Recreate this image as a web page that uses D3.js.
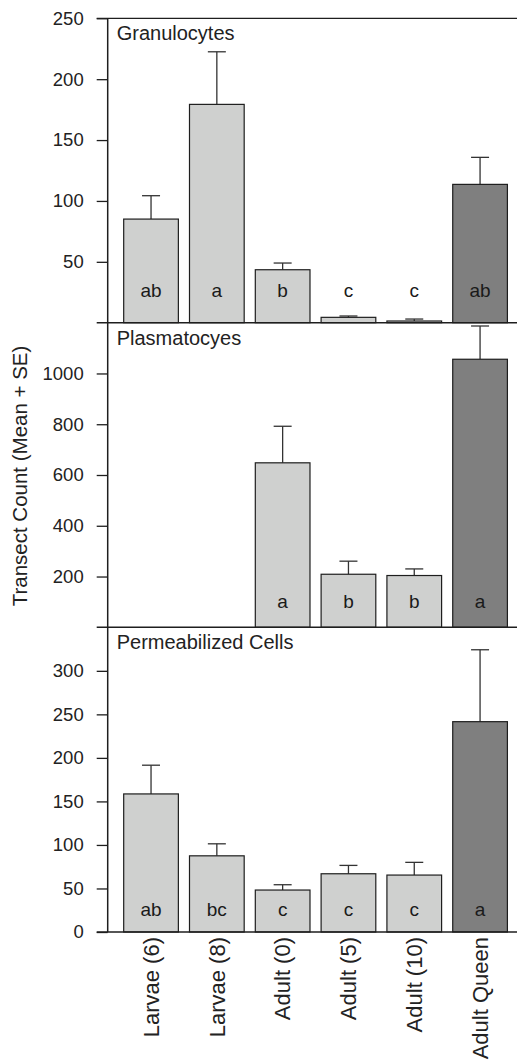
<!DOCTYPE html>
<html>
<head>
<meta charset="utf-8">
<script src="https://cdn.jsdelivr.net/npm/d3@7"></script>
<style>
  body { margin: 0; background: #fff; }
  svg { display: block; font-family: "Liberation Sans", Arial, sans-serif; }
  .tick text { fill: #222; }
</style>
</head>
<body>
<svg id="chart" width="517" height="1061"></svg>
<script>
// groups on the x axis
var groups = ["Larvae (6)", "Larvae (8)", "Adult (0)", "Adult (5)", "Adult (10)", "Adult Queen"];
var queen = "Adult Queen";

// Granulocytes
var granMean = [85.1, 179.3, 43.5, 4.4, 1.4, 113.6];
var granSE = [19.2, 43.2, 5.5, 1.1, 1.6, 22.2];
var granLetters = ["ab", "a", "b", "c", "c", "ab"];
var granTicks = [50, 100, 150, 200, 250];

// Plasmatocyes (no larvae data)
var plasMean = [null, null, 648, 209, 204, 1056];
var plasSE = [null, null, 144, 51.5, 26, 131];
var plasLetters = [null, null, "a", "b", "b", "a"];
var plasTicks = [200, 400, 600, 800, 1000];

// Permeabilized cells
var permMean = [158.6, 87.5, 48.2, 66.9, 65.4, 241.6];
var permSE = [33, 13.8, 6.1, 9.6, 14.6, 82.6];
var permLetters = ["ab", "bc", "c", "c", "c", "a"];
var permTicks = [0, 50, 100, 150, 200, 250, 300];

var panels = [
  { title: "Granulocytes", mean: granMean, se: granSE, letters: granLetters, ticks: granTicks, max: 250, top: 18.3, bottom: 322.7, letterOff: 26 },
  { title: "Plasmatocyes", mean: plasMean, se: plasSE, letters: plasLetters, ticks: plasTicks, max: 1200, top: 322.7, bottom: 627.3, letterOff: 19 },
  { title: "Permeabilized Cells", mean: permMean, se: permSE, letters: permLetters, ticks: permTicks, max: 350, top: 627.3, bottom: 932, letterOff: 16 }
];

var svg = d3.select("#chart");
var axisX = 107.7, tickLen = 11, rightEdge = 523.4;
var ink = "#1e1e1e";

var x = d3.scaleBand()
  .domain(groups)
  .range([axisX, rightEdge])
  .paddingInner(0.169)
  .paddingOuter(0.243);

panels.forEach(function(p, pi) {
  var y = d3.scaleLinear().domain([0, p.max]).range([p.bottom, p.top]);
  var g = svg.append("g");

  var rows = groups.map(function(d, i) {
    return { group: d, mean: p.mean[i], se: p.se[i], letter: p.letters[i] };
  });
  var present = rows.filter(function(d) { return d.mean != null; });

  // error bars (upper only)
  var err = g.selectAll(".err").data(present).enter().append("g");
  err.append("line")
    .attr("x1", function(d) { return x(d.group) + x.bandwidth() / 2; })
    .attr("x2", function(d) { return x(d.group) + x.bandwidth() / 2; })
    .attr("y1", function(d) { return y(d.mean); })
    .attr("y2", function(d) { return y(d.mean + d.se); })
    .attr("stroke", "#333").attr("stroke-width", 1.3);
  err.append("line")
    .attr("x1", function(d) { return x(d.group) + x.bandwidth() / 2 - 9; })
    .attr("x2", function(d) { return x(d.group) + x.bandwidth() / 2 + 9; })
    .attr("y1", function(d) { return y(d.mean + d.se); })
    .attr("y2", function(d) { return y(d.mean + d.se); })
    .attr("stroke", "#333").attr("stroke-width", 1.3);

  // bars
  g.selectAll(".bar").data(present).enter().append("rect")
    .attr("x", function(d) { return x(d.group); })
    .attr("y", function(d) { return y(d.mean); })
    .attr("width", x.bandwidth())
    .attr("height", function(d) { return y(0) - y(d.mean); })
    .attr("fill", function(d) { return d.group === queen ? "#7f7f7f" : "#cfd0cf"; })
    .attr("stroke", ink).attr("stroke-width", 1.2);

  // significance letters
  g.selectAll(".lt").data(present).enter().append("text")
    .attr("x", function(d) { return x(d.group) + x.bandwidth() / 2; })
    .attr("y", y(0) - p.letterOff)
    .attr("text-anchor", "middle")
    .attr("font-size", 19)
    .attr("fill", "#1a1a1a")
    .text(function(d) { return d.letter; });

  // y axis ticks
  var ax = g.append("g")
    .attr("transform", "translate(" + axisX + ",0)")
    .call(d3.axisLeft(y).tickValues(p.ticks).tickSize(tickLen).tickPadding(13).tickFormat(d3.format("d")));
  ax.select(".domain").remove();
  ax.selectAll(".tick line").attr("stroke", ink).attr("stroke-width", 1.3);
  ax.selectAll(".tick text").attr("font-size", 18.5).attr("font-family", "Liberation Sans, Arial, sans-serif");

  // vertical axis line
  g.append("line")
    .attr("x1", axisX).attr("x2", axisX)
    .attr("y1", p.top).attr("y2", p.bottom)
    .attr("stroke", ink).attr("stroke-width", 1.5);

  // baseline (also top of next panel) and top frame for first panel
  g.append("line")
    .attr("x1", axisX - tickLen).attr("x2", rightEdge)
    .attr("y1", y(0)).attr("y2", y(0))
    .attr("stroke", ink).attr("stroke-width", 1.5);
  if (pi === 0) {
    g.append("line")
      .attr("x1", axisX - tickLen).attr("x2", rightEdge)
      .attr("y1", y(p.max)).attr("y2", y(p.max))
      .attr("stroke", ink).attr("stroke-width", 1.3);
  }

  // panel title
  g.append("text")
    .attr("x", 116.7)
    .attr("y", p.top + 22)
    .attr("font-size", 20)
    .attr("fill", "#222")
    .text(p.title);
});

// x labels, rotated
svg.append("g").selectAll("text").data(groups).enter().append("text")
  .attr("transform", function(d) { return "translate(" + (x(d) + x.bandwidth() / 2) + ",937) rotate(-90)"; })
  .attr("text-anchor", "end")
  .attr("dy", "0.35em")
  .attr("font-size", 22)
  .attr("fill", "#222")
  .text(function(d) { return d; });

// y axis title
svg.append("text")
  .attr("transform", "translate(20,476) rotate(-90)")
  .attr("text-anchor", "middle")
  .attr("dy", "0.35em")
  .attr("font-size", 20.5)
  .attr("fill", "#222")
  .text("Transect Count (Mean + SE)");
</script>
</body>
</html>
